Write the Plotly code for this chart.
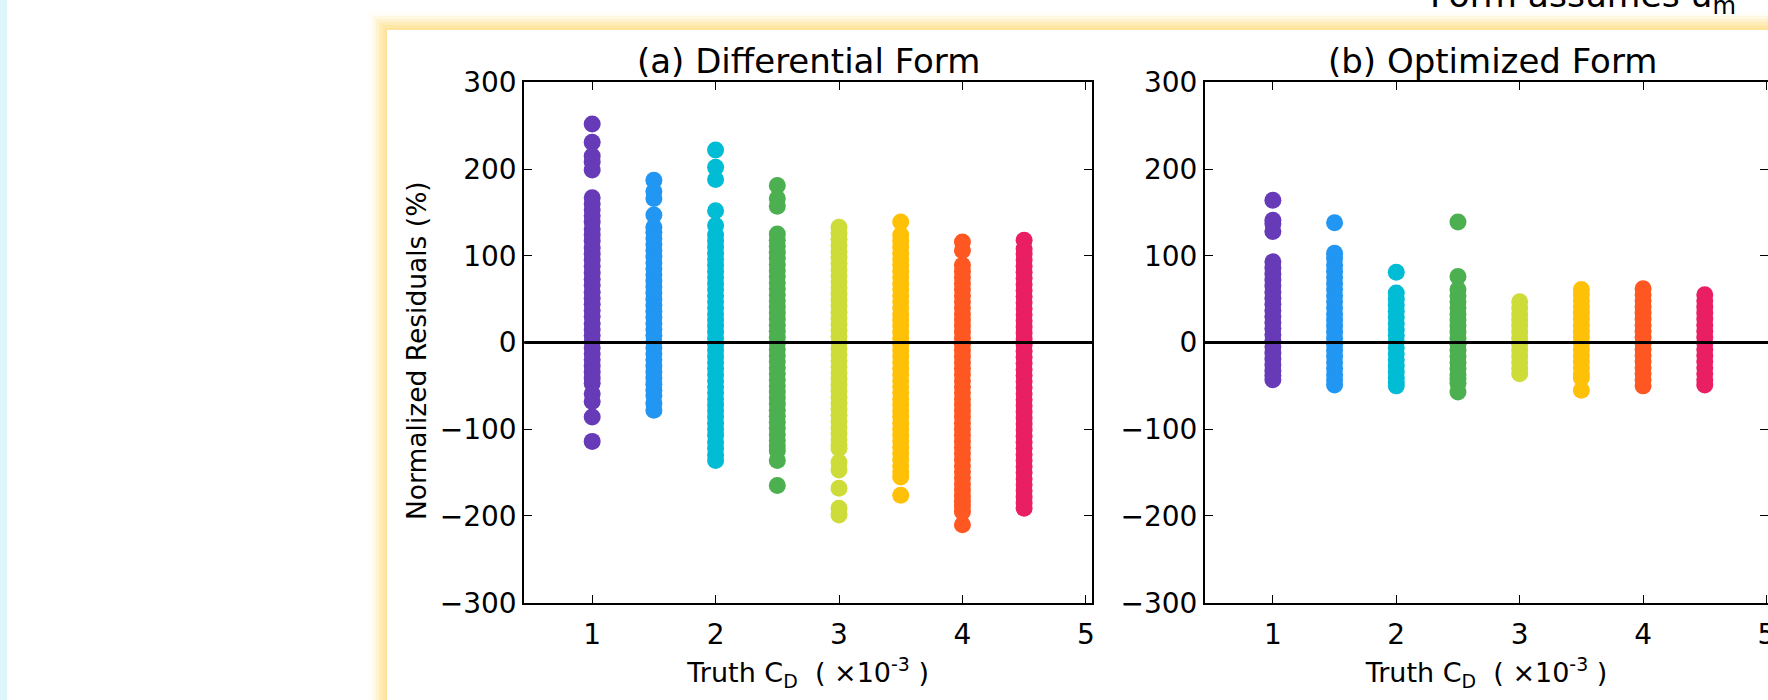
import plotly.graph_objects as go

# ---------------- data ----------------
truth_cd = [1.0, 1.5, 2.0, 2.5, 3.0, 3.5, 4.0, 4.5]
colors = ["#673AB7", "#2196F3", "#00BCD4", "#4CAF50",
          "#CDDC39", "#FFC107", "#FF5722", "#E91E63"]

# (a) Differential form residuals (%)
diff_1_0 = [252, 231, 215, 208, 199, 167, 160, 153, 146, 139, 131, 124, 117, 109, 102, 95, 88, 80,
            73, 66, 58, 51, 44, 37, 30, 22, 15, 8, 1, -6, -13, -20, -27, -34, -41, -47, -59, -68, -86, -114]
diff_1_5 = [187, 174, 166, 147, 133, 127, 120, 113, 106, 99, 92, 85, 78, 71, 64, 57, 50, 43, 36,
            29, 22, 15, 8, 1, -6, -13, -20, -27, -34, -41, -48, -55, -61, -70, -78]
diff_2_0 = [222, 202, 188, 152, 135, 124, 117, 110, 103, 96, 89, 82, 75, 68, 61, 54, 47, 40, 33,
            26, 19, 12, 5, -2, -9, -16, -23, -30, -37, -44, -51, -58, -65, -72, -79, -86, -93,
            -100, -107, -115, -122, -130, -136]
diff_2_5 = [181, 166, 157, 125, 118, 111, 104, 97, 90, 83, 76, 69, 62, 55, 48, 41, 34, 27, 20,
            13, 6, -1, -8, -15, -22, -29, -36, -43, -50, -57, -64, -71, -78, -85, -92, -99, -106,
            -113, -119, -125, -136, -165]
diff_3_0 = [133, 126, 119, 112, 105, 98, 91, 84, 77, 70, 63, 56, 49, 42, 35, 28, 21, 14, 7, 0,
            -7, -14, -21, -28, -35, -42, -49, -56, -63, -70, -77, -84, -91, -98, -105, -112, -118,
            -122, -138, -147, -168, -191, -199]
diff_3_5 = [139, 124, 117, 110, 103, 96, 89, 82, 75, 68, 61, 54, 47, 40, 33, 26, 19, 12, 5, -2,
            -9, -16, -23, -30, -37, -44, -51, -58, -65, -72, -79, -86, -93, -100, -107, -114,
            -121, -128, -135, -142, -149, -155, -176]
diff_4_0 = [116, 106, 89, 82, 75, 68, 61, 54, 47, 40, 33, 26, 19, 12, 5, -2, -9, -16, -23, -30,
            -37, -44, -51, -58, -65, -72, -79, -86, -93, -100, -107, -114, -121, -128, -135,
            -142, -149, -156, -163, -170, -177, -183, -188, -195, -210]
diff_4_5 = [118, 108, 102, 95, 88, 81, 74, 67, 60, 53, 46, 39, 32, 25, 18, 11, 4, -3, -10, -17,
            -24, -31, -38, -45, -52, -59, -66, -73, -80, -87, -94, -101, -108, -115, -122, -129,
            -136, -143, -150, -157, -164, -171, -178, -185, -191]

# (b) Optimized form residuals (%)
opt_1_0 = [164, 141, 137, 128, 93, 86, 79, 72, 65, 58, 51, 44, 37, 30, 23, 16, 9, 2, -5, -12,
           -19, -26, -33, -38, -43]
opt_1_5 = [138, 103, 97, 89, 82, 75, 68, 61, 54, 47, 40, 33, 26, 19, 12, 5, -2, -9, -16, -23,
           -30, -37, -43, -49]
opt_2_0 = [81, 57, 50, 43, 36, 29, 22, 15, 8, 1, -6, -13, -20, -27, -34, -41, -46, -50]
opt_2_5 = [139, 76, 61, 54, 47, 40, 33, 26, 19, 12, 5, -2, -9, -16, -23, -30, -37, -42, -47, -57]
opt_3_0 = [47, 40, 33, 26, 19, 12, 5, -2, -9, -16, -23, -30, -36]
opt_3_5 = [61, 55, 48, 41, 34, 27, 20, 13, 6, -1, -8, -15, -22, -29, -36, -41, -55]
opt_4_0 = [62, 55, 48, 41, 34, 27, 20, 13, 6, -1, -8, -15, -22, -29, -36, -43, -50]
opt_4_5 = [55, 48, 41, 34, 27, 20, 13, 6, -1, -8, -15, -22, -29, -36, -43, -49]

diff_series = [diff_1_0, diff_1_5, diff_2_0, diff_2_5, diff_3_0, diff_3_5, diff_4_0, diff_4_5]
opt_series = [opt_1_0, opt_1_5, opt_2_0, opt_2_5, opt_3_0, opt_3_5, opt_4_0, opt_4_5]

x_ticks = [1, 2, 3, 4, 5]
y_ticks = [-300, -200, -100, 0, 100, 200, 300]

title_a = "(a) Differential Form"
title_b = "(b) Optimized Form"
x_title = "Truth C<sub>D</sub>  ( ×10<sup>-3</sup> )"
y_title = "Normalized Residuals (%)"
top_text = "Form assumes u<sub>m</sub>"

# ---------------- figure ----------------
W, H = 1768, 700
FONT = "DejaVu Sans"


def px_x(p):
    return p / W


def px_y(p):
    return 1 - p / H


fig = go.Figure()

for cd, vals, col in zip(truth_cd, diff_series, colors):
    fig.add_trace(go.Scatter(x=[cd] * len(vals), y=vals, mode="markers",
                             marker=dict(size=17, color=col, line=dict(width=0)),
                             xaxis="x", yaxis="y", showlegend=False))
for cd, vals, col in zip(truth_cd, opt_series, colors):
    fig.add_trace(go.Scatter(x=[cd] * len(vals), y=vals, mode="markers",
                             marker=dict(size=17, color=col, line=dict(width=0)),
                             xaxis="x2", yaxis="y2", showlegend=False))

# background: cyan strip, glowing white panel
shapes = [dict(type="rect", xref="paper", yref="paper", x0=0, x1=px_x(7), y0=0, y1=1,
               fillcolor="#DDF6FC", line=dict(width=0), layer="below")]
glow = [(17, "#FFFDF5"), (14, "#FFF8E3"), (11, "#FFF2CE"), (8, "#FFECB8"),
        (5, "#FFE7A6"), (2, "#FFE39A")]
box_x0, box_y0 = 387, 30
for d, c in glow:
    shapes.append(dict(type="rect", xref="paper", yref="paper",
                       x0=px_x(box_x0 - d), x1=1.02, y0=-0.02, y1=px_y(box_y0 - d),
                       fillcolor=c, line=dict(width=0), layer="below"))
shapes.append(dict(type="rect", xref="paper", yref="paper",
                   x0=px_x(box_x0), x1=1.02, y0=-0.02, y1=px_y(box_y0),
                   fillcolor="white", line=dict(width=0), layer="below"))
# zero lines
for xr, yr in [("x domain", "y"), ("x2 domain", "y2")]:
    shapes.append(dict(type="line", xref=xr, yref=yr, x0=0, x1=1, y0=0, y1=0,
                       line=dict(color="black", width=3), layer="above"))

ax_common = dict(showline=True, linecolor="black", linewidth=2, mirror="ticks",
                 ticks="inside", ticklen=8, tickwidth=1.2, tickcolor="black",
                 showgrid=False, zeroline=False, automargin=False,
                 tickfont=dict(family=FONT, size=28, color="black"))

ya_dom = [px_y(602.7), px_y(82.3)]
fig.update_layout(
    width=W, height=H, margin=dict(l=0, r=0, t=0, b=0, autoexpand=False),
    paper_bgcolor="white", plot_bgcolor="rgba(0,0,0,0)",
    font=dict(family=FONT, color="black"),
    showlegend=False,
    shapes=shapes,
    xaxis=dict(domain=[px_x(524.3), px_x(1092)], range=[0.45, 5.05], tickvals=x_ticks,
               anchor="y", title=dict(text=x_title, font=dict(family=FONT, size=27), standoff=13),
               ticklabelstandoff=6, **ax_common),
    yaxis=dict(domain=ya_dom, range=[-300, 300], tickvals=y_ticks, anchor="x", **ax_common),
    xaxis2=dict(domain=[px_x(1205), 1.0], range=[0.45, 0.45 + (1768 - 1205) / 123.4],
                tickvals=x_ticks, anchor="y2",
                title=dict(text=x_title, font=dict(family=FONT, size=27), standoff=13),
                ticklabelstandoff=6, ticklabeloverflow="allow", **ax_common),
    yaxis2=dict(domain=ya_dom, range=[-300, 300], tickvals=y_ticks, anchor="x2", **ax_common),
    annotations=[
        dict(text=y_title, xref="paper", yref="paper", x=px_x(416), y=px_y(351),
             xanchor="center", yanchor="middle", textangle=-90, showarrow=False,
             font=dict(family=FONT, size=26.5, color="black")),
        dict(text=title_a, xref="paper", yref="paper", x=px_x((524.3 + 1092) / 2), y=px_y(61),
             xanchor="center", yanchor="middle", showarrow=False,
             font=dict(family=FONT, size=34, color="black")),
        dict(text=title_b, xref="paper", yref="paper", x=px_x(1492), y=px_y(61),
             xanchor="center", yanchor="middle", showarrow=False,
             font=dict(family=FONT, size=34, color="black")),
        dict(text=top_text, xref="paper", yref="paper", x=px_x(1428), y=px_y(22),
             xanchor="left", yanchor="bottom", showarrow=False,
             font=dict(family=FONT, size=34.5, color="black")),
    ],
)

fig.write_html("out.html", config={"displayModeBar": False},
               post_script="document.body.style.margin='0px';")
